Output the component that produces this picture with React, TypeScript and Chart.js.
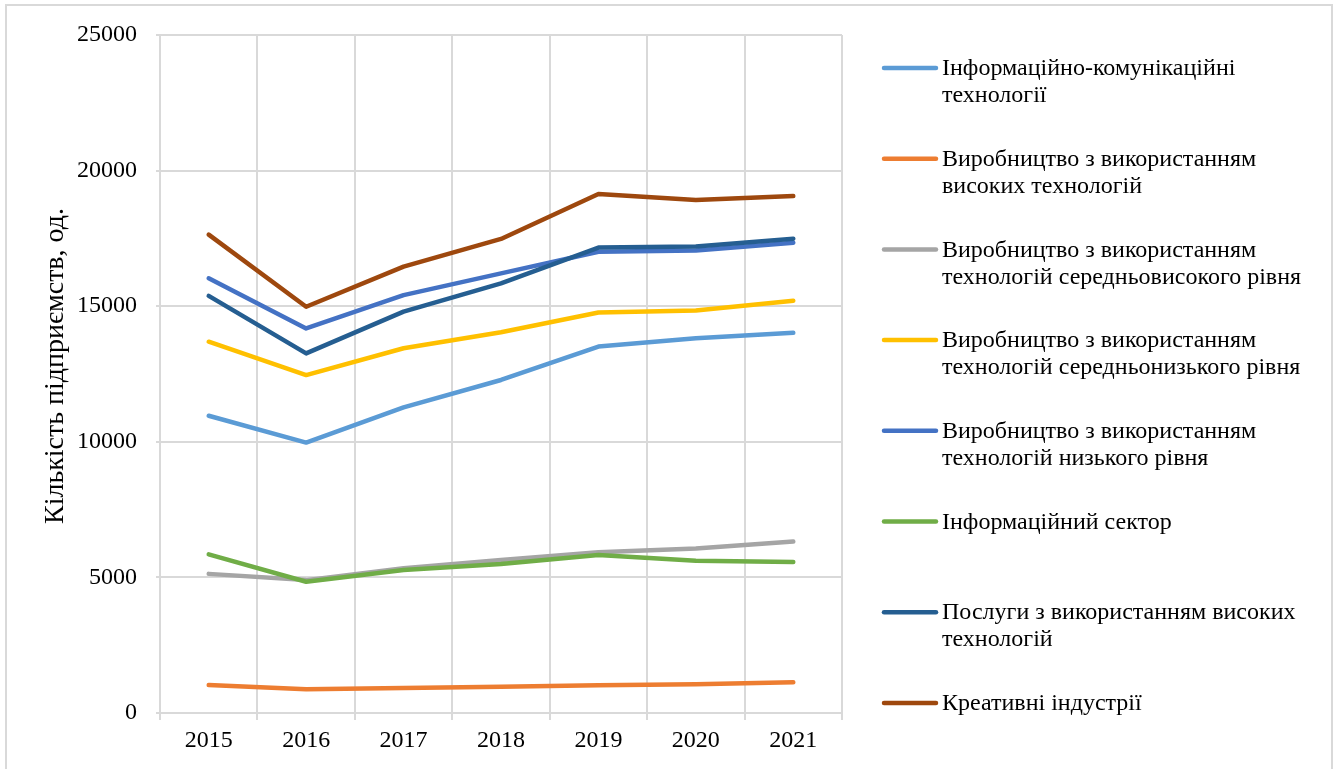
import React, { useEffect, useRef } from "react";
import { Chart, registerables } from "chart.js";

Chart.register(...registerables);

const years = ["2015", "2016", "2017", "2018", "2019", "2020", "2021"];

const ictValues = [10960, 9970, 11270, 12280, 13510, 13820, 14020];
const highTechMfgValues = [1030, 880, 920, 970, 1020, 1060, 1130];
const medHighTechValues = [5130, 4900, 5340, 5640, 5930, 6070, 6320];
const medLowTechValues = [13690, 12460, 13450, 14040, 14770, 14840, 15200];
const lowTechValues = [16030, 14180, 15410, 16210, 17010, 17050, 17340];
const infoSectorValues = [5850, 4840, 5270, 5490, 5830, 5610, 5570];
const highTechServicesValues = [15380, 13260, 14800, 15840, 17160, 17200, 17490];
const creativeValues = [17640, 14980, 16460, 17480, 19140, 18920, 19060];

const seriesValues = [
  ictValues,
  highTechMfgValues,
  medHighTechValues,
  medLowTechValues,
  lowTechValues,
  infoSectorValues,
  highTechServicesValues,
  creativeValues,
];

const seriesLabels = [
  "Інформаційно-комунікаційні технології",
  "Виробництво з використанням високих технологій",
  "Виробництво з використанням технологій середньовисокого рівня",
  "Виробництво з використанням технологій середньонизького рівня",
  "Виробництво з використанням технологій низького рівня",
  "Інформаційний сектор",
  "Послуги з використанням високих технологій",
  "Креативні індустрії",
];

const legendLines = [
  ["Інформаційно-комунікаційні", "технології"],
  ["Виробництво з використанням", "високих технологій"],
  ["Виробництво з використанням", "технологій середньовисокого рівня"],
  ["Виробництво з використанням", "технологій середньонизького рівня"],
  ["Виробництво з використанням", "технологій низького рівня"],
  ["Інформаційний сектор"],
  ["Послуги з використанням високих", "технологій"],
  ["Креативні індустрії"],
];

const seriesColors = [
  "#5B9BD5",
  "#ED7D31",
  "#A5A5A5",
  "#FFC000",
  "#4472C4",
  "#70AD47",
  "#255E91",
  "#9E480E",
];

const yAxisTitle = "Кількість підприємств, од.";
const yMin = 0;
const yMax = 25000;
const yStep = 5000;

const FONT = '"Liberation Serif", "Times New Roman", serif';
const FONT_SIZE = 24;
const TITLE_SIZE = 28;
const GRID = "#d9d9d9";

const customPlugin = {
  id: "customText",
  afterDraw(chart: any) {
    const ctx = chart.ctx as CanvasRenderingContext2D;
    ctx.save();
    ctx.fillStyle = "#000";
    ctx.font = `${TITLE_SIZE}px ${FONT}`;
    ctx.textAlign = "center";
    ctx.textBaseline = "middle";
    ctx.translate(56, 366);
    ctx.rotate(-Math.PI / 2);
    ctx.fillText(yAxisTitle, 0, 0);
    ctx.restore();

    ctx.save();
    ctx.font = `${FONT_SIZE}px ${FONT}`;
    ctx.textAlign = "left";
    ctx.textBaseline = "middle";
    chart.data.datasets.forEach((ds: any, i: number) => {
      const y = 68 + i * 90.7;
      ctx.strokeStyle = ds.borderColor;
      ctx.lineWidth = 4.5;
      ctx.lineCap = "round";
      ctx.beginPath();
      ctx.moveTo(884, y);
      ctx.lineTo(936, y);
      ctx.stroke();
      ctx.fillStyle = "#000";
      legendLines[i].forEach((t, j) => {
        ctx.fillText(t, 942, y + 1 + j * 27);
      });
    });
    ctx.restore();
  },
};

export default function App() {
  const canvasRef = useRef<HTMLCanvasElement | null>(null);

  useEffect(() => {
    if (!canvasRef.current) return;
    const chart = new Chart(canvasRef.current, {
      type: "line",
      data: {
        labels: years,
        datasets: seriesValues.map((vals, i) => ({
          label: seriesLabels[i],
          data: vals,
          borderColor: seriesColors[i],
          backgroundColor: seriesColors[i],
          borderWidth: 4.5,
          pointRadius: 0,
          pointHoverRadius: 0,
          tension: 0,
          borderCapStyle: "round",
          borderJoinStyle: "round",
          fill: false,
          order: seriesValues.length - i,
        })),
      },
      options: {
        animation: false,
        responsive: true,
        maintainAspectRatio: false,
        layout: { padding: { left: 0, top: 35, right: 499, bottom: 0 } },
        plugins: {
          legend: { display: false },
          tooltip: { enabled: false },
          title: { display: false },
        },
        scales: {
          x: {
            type: "category",
            offset: true,
            grid: {
              offset: true,
              color: GRID,
              lineWidth: 2,
              drawTicks: true,
              tickLength: 7,
              tickColor: GRID,
            },
            border: { display: false },
            ticks: {
              color: "#000",
              font: { family: FONT, size: FONT_SIZE },
              padding: 6,
              maxRotation: 0,
              autoSkip: false,
            },
            afterFit: (s: any) => {
              s.height = 56;
            },
          },
          y: {
            min: yMin,
            max: yMax,
            grid: {
              color: GRID,
              lineWidth: 2,
              drawTicks: true,
              tickLength: 4,
              tickColor: GRID,
            },
            border: { display: false },
            ticks: {
              stepSize: yStep,
              color: "#000",
              font: { family: FONT, size: FONT_SIZE },
              padding: 19,
              callback: (v: any) => String(v),
            },
            afterFit: (s: any) => {
              s.width = 160;
            },
          },
        },
      },
      plugins: [customPlugin],
    });
    return () => chart.destroy();
  }, []);

  return (
    <div
      style={{
        position: "absolute",
        left: 0,
        top: 0,
        width: 1341,
        height: 769,
        background: "#fff",
        overflow: "hidden",
      }}
    >
      <div
        style={{
          position: "absolute",
          left: 5,
          top: 4,
          width: 1328,
          height: 800,
          border: "2px solid #d9d9d9",
          boxSizing: "border-box",
        }}
      />
      <div style={{ position: "absolute", left: 0, top: 0, width: 1341, height: 769 }}>
        <canvas ref={canvasRef} />
      </div>
    </div>
  );
}
